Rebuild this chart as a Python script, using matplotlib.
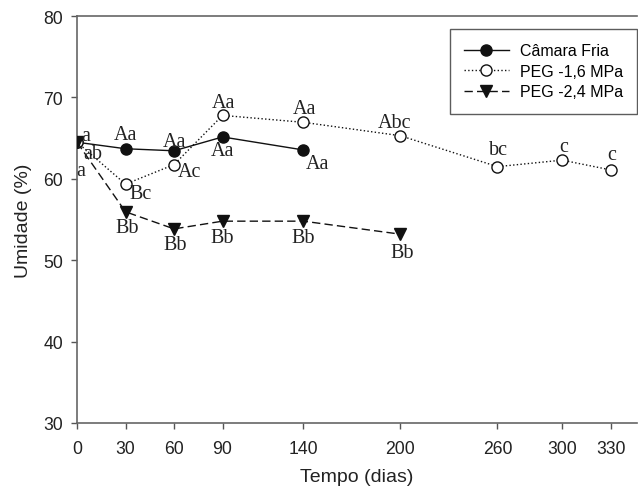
import matplotlib
matplotlib.use("Agg")
import matplotlib.pyplot as plt

dias = [0, 30, 60, 90, 140, 200, 260, 300, 330]
x_cf = [0, 30, 60, 90, 140]
cf = [64.5, 63.7, 63.45, 65.15, 63.55]
x_p16 = [0, 30, 60, 90, 140, 200, 260, 300, 330]
p16 = [64.5, 59.35, 61.75, 67.8, 66.95, 65.3, 61.5, 62.3, 61.1]
x_p24 = [0, 30, 60, 90, 140, 200]
p24 = [64.5, 55.95, 53.85, 54.8, 54.8, 53.2]

lab_cf = ["a", "Aa", "Aa", "Aa", "Aa"]
lab_p16 = ["ab", "Bc", "Ac", "Aa", "Aa", "Abc", "bc", "c", "c"]
lab_p24 = ["a", "Bb", "Bb", "Bb", "Bb", "Bb"]

# label offsets in points (dx, dy)
off_cf = [(6, 5), (0, 10), (0, 7), (0, -10), (10, -10)]
off_p16 = [(11, -8), (11, -7), (11, -5), (1, 9), (1, 10), (-4, 9.5), (1, 12), (1, 10), (1, 11)]
off_p24 = [(3, -20), (1, -11), (1, -11), (0, -12), (0, -12), (1, -13)]

fig = plt.figure(figsize=(6.38, 4.89), dpi=100)
ax = fig.add_axes([0.1207, 0.133, 0.877, 0.832])

lc = "#111111"
ax.plot(x_cf, cf, '-', color=lc, lw=1.0, marker='o', ms=8, mfc=lc, mec=lc, label="Câmara Fria", zorder=3)
ax.plot(x_p16, p16, ':', color=lc, lw=1.0, marker='o', ms=8, mfc='white', mec=lc, label="PEG -1,6 MPa", zorder=3)
ax.plot(x_p24, p24, '--', color=lc, lw=1.0, marker='v', ms=8, mfc=lc, mec=lc, label="PEG -2,4 MPa", zorder=3,
        dashes=(6, 3))

serif = "Liberation Serif"
for xs, ys, labs, offs in [(x_cf, cf, lab_cf, off_cf), (x_p16, p16, lab_p16, off_p16), (x_p24, p24, lab_p24, off_p24)]:
    for xv, yv, t, (dx, dy) in zip(xs, ys, labs, offs):
        ax.annotate(t, (xv, yv), xytext=(dx, dy), textcoords='offset points',
                    ha='center', va='center', fontsize=14.5, family=serif, color="#222222")

ax.set_xlim(0, 346)
ax.set_ylim(30, 80)
ax.set_xticks(dias)
ax.set_yticks([30, 40, 50, 60, 70, 80])
sans = "Liberation Sans"
ax.tick_params(direction='out', length=4, width=1, colors="#555555", labelcolor="#222222", labelsize=12.7, pad=6)
for lbl in ax.get_xticklabels() + ax.get_yticklabels():
    lbl.set_family(sans)
ax.tick_params(axis='x', pad=8)
for s in ['left', 'bottom', 'top']:
    ax.spines[s].set_color("#666666")
    ax.spines[s].set_linewidth(1.2)
ax.spines['right'].set_visible(False)

ax.set_xlabel("Tempo (dias)", family=sans, fontsize=14, labelpad=8, color="#222222")
ax.set_ylabel("Umidade (%)", family=sans, fontsize=14, labelpad=8, color="#222222")

leg = ax.legend(loc='upper right', bbox_to_anchor=(1.0015, 0.969), borderaxespad=0.0,
                prop={'family': sans, 'size': 11.5},
                frameon=True, fancybox=False, edgecolor="#333333", handlelength=2.8,
                handletextpad=0.7, borderpad=0.9, labelspacing=0.35)
leg.get_frame().set_linewidth(1.0)

fig.savefig("out.png", dpi=100)
